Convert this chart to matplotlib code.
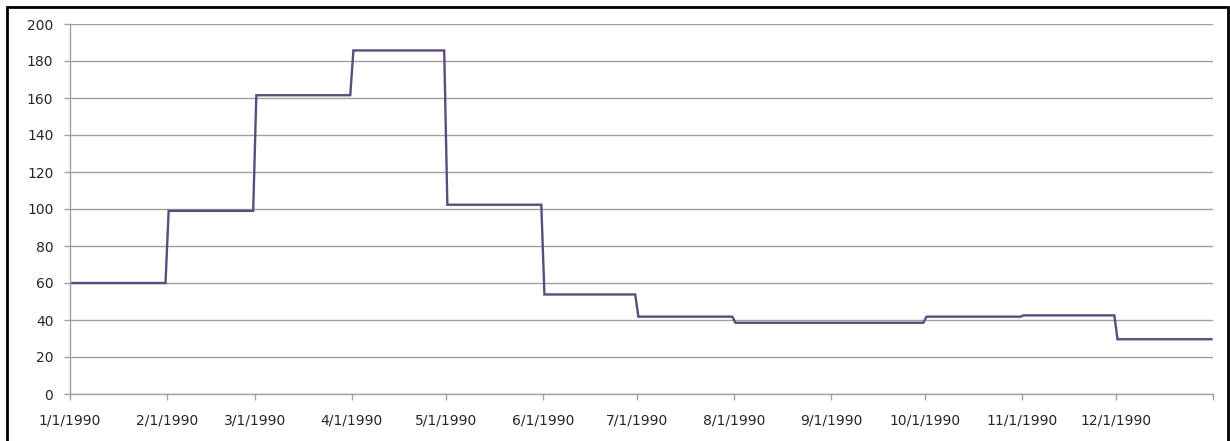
import matplotlib
matplotlib.use("Agg")
import matplotlib.pyplot as plt
from matplotlib.patches import Rectangle
import pandas as pd

# Monthly levels (daily series is constant within each month)
months = ["1990-01", "1990-02", "1990-03", "1990-04", "1990-05", "1990-06",
          "1990-07", "1990-08", "1990-09", "1990-10", "1990-11", "1990-12"]
monthly_values = [60, 99, 161.5, 185.7, 102.3, 53.8, 41.8, 38.5, 38.5, 41.8, 42.5, 29.6]
tick_labels = ["1/1/1990", "2/1/1990", "3/1/1990", "4/1/1990", "5/1/1990", "6/1/1990",
               "7/1/1990", "8/1/1990", "9/1/1990", "10/1/1990", "11/1/1990", "12/1/1990", ""]
y_ticks = [0, 20, 40, 60, 80, 100, 120, 140, 160, 180, 200]

days = pd.date_range("1990-01-01", "1990-12-31", freq="D")
level = dict(zip(months, monthly_values))
daily = [level[d.strftime("%Y-%m")] for d in days]
# points sit in the middle of each day (date axis, "between tick marks")
day_centers = days + pd.Timedelta(hours=12)

fig = plt.figure(figsize=(12.30, 4.41), dpi=100)
ax = fig.add_axes([70/1230, 1-394/441, (1213-70)/1230, (394-24)/441])

ax.plot(day_centers, daily, color="#5F4A7F", lw=1.7, solid_joinstyle="miter")

tick_dates = pd.date_range("1990-01-01", "1991-01-01", freq="MS")
ax.set_xticks(tick_dates)
ax.set_xticklabels(tick_labels)
ax.set_xlim(pd.Timestamp("1990-01-01"), pd.Timestamp("1991-01-01"))
ax.set_ylim(0, 200)
ax.set_yticks(y_ticks)

ax.grid(axis="y", color="#A0A0A0", lw=1.0)
ax.set_axisbelow(True)
for s in ["top", "right"]:
    ax.spines[s].set_visible(False)
for s in ["left", "bottom"]:
    ax.spines[s].set_color("#A0A0A0")
    ax.spines[s].set_linewidth(1.0)
ax.tick_params(axis="both", colors="#A0A0A0", labelcolor="#262626", length=4, width=1.0,
               labelsize=10)
ax.tick_params(axis="x", pad=10)
ax.tick_params(axis="y", pad=8)
for lab in ax.get_xticklabels() + ax.get_yticklabels():
    lab.set_family("DejaVu Sans")

# outer chart border
fig.patches.append(Rectangle((7/1230, -0.01), (1228-7)/1230, 1-7/441 + 0.01,
                             transform=fig.transFigure, fill=False,
                             edgecolor="black", lw=2))

fig.savefig("out.png", dpi=100)
